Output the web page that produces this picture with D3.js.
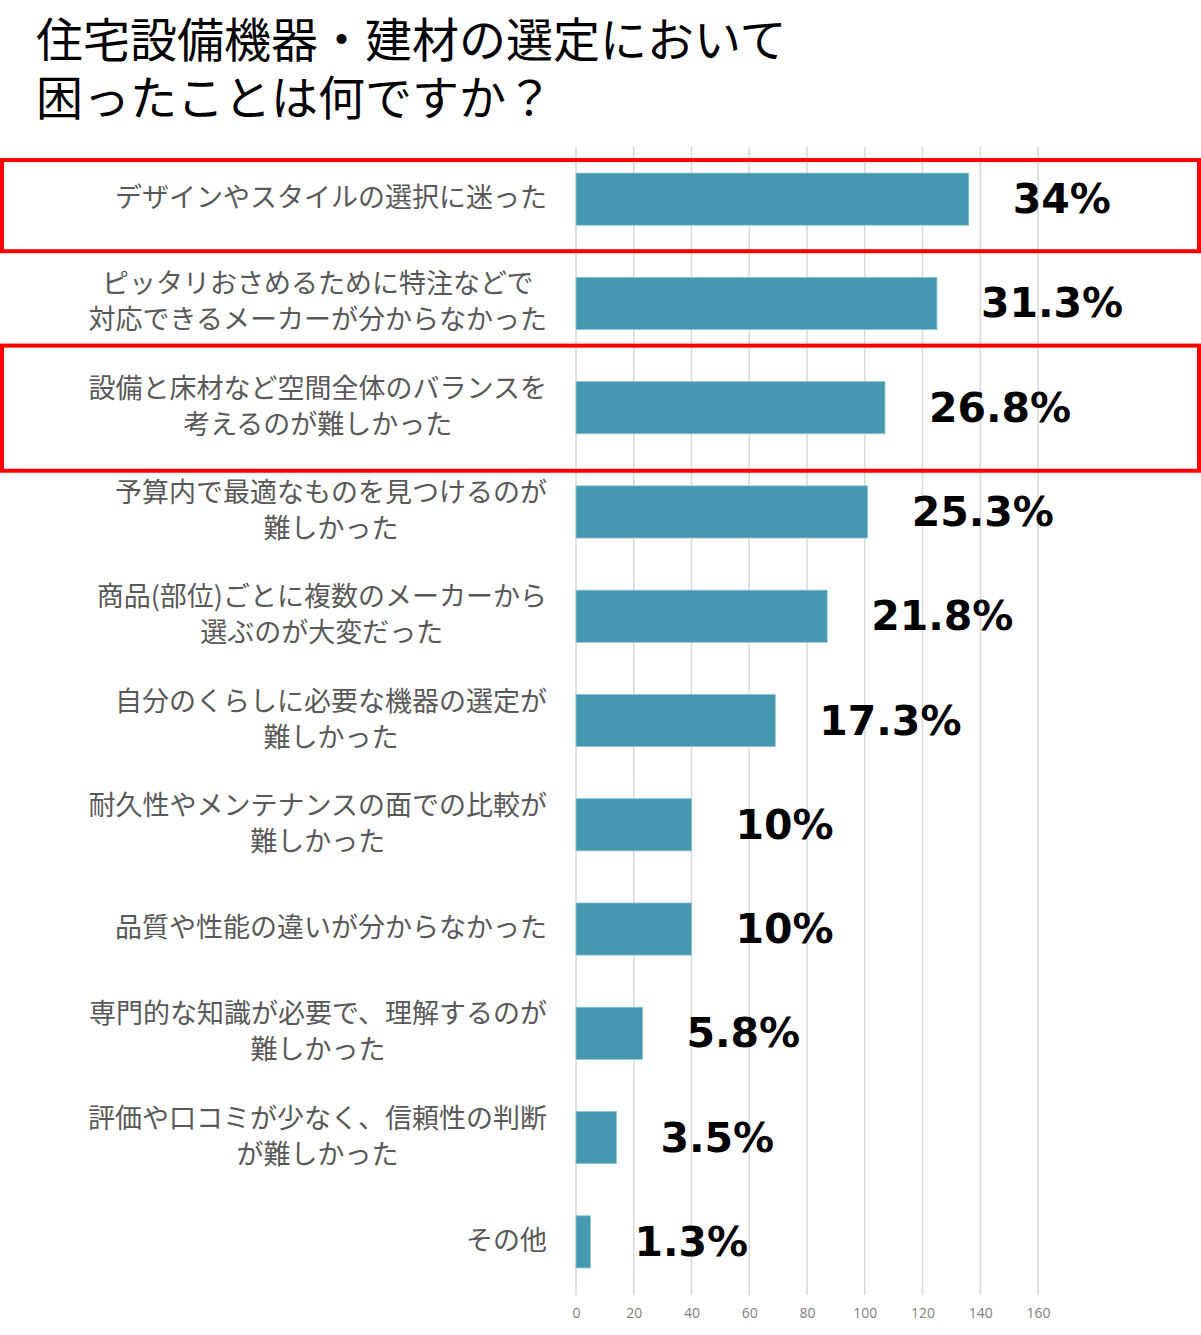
<!DOCTYPE html>
<html><head><meta charset="utf-8">
<script src="https://cdn.jsdelivr.net/npm/d3@7"></script>
<style>html,body{margin:0;padding:0;background:#fff;}</style>
</head><body>
<svg id="chart" width="1201" height="1335"></svg>
<script>
const titleLines = ["住宅設備機器・建材の選定において", "困ったことは何ですか？"];
const categories = [
  ["デザインやスタイルの選択に迷った"],
  ["ピッタリおさめるために特注などで", "対応できるメーカーが分からなかった"],
  ["設備と床材など空間全体のバランスを", "考えるのが難しかった"],
  ["予算内で最適なものを見つけるのが", "難しかった"],
  ["商品(部位)ごとに複数のメーカーから", "選ぶのが大変だった"],
  ["自分のくらしに必要な機器の選定が", "難しかった"],
  ["耐久性やメンテナンスの面での比較が", "難しかった"],
  ["品質や性能の違いが分からなかった"],
  ["専門的な知識が必要で、理解するのが", "難しかった"],
  ["評価や口コミが少なく、信頼性の判断", "が難しかった"],
  ["その他"]
];
const counts = [136, 125, 107, 101, 87, 69, 40, 40, 23, 14, 5];
const percentLabels = ["34%", "31.3%", "26.8%", "25.3%", "21.8%", "17.3%", "10%", "10%", "5.8%", "3.5%", "1.3%"];
const xTicks = [0, 20, 40, 60, 80, 100, 120, 140, 160];
const highlighted = [0, 2];

// layout
const plot = {left: 576, right: 1038, top: 147, bottom: 1294};
const highlightPad = [{top: 13, bottom: 26}, {top: 36, bottom: 37}];
const svg = d3.select("#chart");

const x = d3.scaleLinear().domain([0, 160]).range([plot.left, plot.right]);
const y = d3.scaleBand().domain(d3.range(categories.length))
  .range([plot.top, plot.bottom]).paddingInner(0.5).paddingOuter(0.25);

// title
svg.append("g").selectAll("text").data(titleLines).join("text")
  .attr("x", 36).attr("y", (d, i) => 57 + i * 58)
  .attr("font-family", "'Noto Sans CJK JP', sans-serif")
  .attr("font-size", 47).attr("fill", "#000")
  .text(d => d);

// gridlines
svg.append("g").selectAll("line").data(xTicks).join("line")
  .attr("x1", d => x(d)).attr("x2", d => x(d))
  .attr("y1", plot.top).attr("y2", plot.bottom + 1)
  .attr("stroke", "#d9d9d9").attr("stroke-width", 1.5);

// axis labels
const axis = d3.axisBottom(x).tickValues(xTicks).tickSize(0).tickPadding(0);
const ax = svg.append("g").attr("transform", `translate(0,${plot.bottom + 14})`).call(axis);
ax.select(".domain").remove();
ax.selectAll("text").attr("font-family", "'Open Sans', 'DejaVu Sans', sans-serif")
  .attr("font-size", 14).attr("fill", "#808080");

// bars
svg.append("g").selectAll("rect").data(counts).join("rect")
  .attr("x", x(0)).attr("y", (d, i) => y(i))
  .attr("width", d => x(d) - x(0)).attr("height", y.bandwidth())
  .attr("fill", "#4598b0").attr("stroke", "#8cc4d2").attr("stroke-width", 0.8);

// value labels
svg.append("g").selectAll("text").data(percentLabels).join("text")
  .attr("x", (d, i) => x(counts[i]) + 44)
  .attr("y", (d, i) => y(i) + y.bandwidth() / 2 + 14)
  .attr("font-family", "'DejaVu Sans', Verdana, sans-serif")
  .attr("font-weight", "bold").attr("font-size", 41).attr("fill", "#000")
  .text(d => d);

// category labels
const labelRight = 547;
const lg = svg.append("g");
categories.forEach((lines, i) => {
  const cy = y(i) + y.bandwidth() / 2 - 1;
  const g = lg.append("g");
  const texts = g.selectAll("text").data(lines).join("text")
    .attr("font-family", "'Noto Sans CJK JP', sans-serif")
    .attr("font-size", 27).attr("fill", "#595959")
    .attr("text-anchor", "middle")
    .attr("y", (d, j) => cy + (j - (lines.length - 1) / 2) * 36 + 9)
    .text(d => d);
  let maxW = 0;
  texts.each(function() { maxW = Math.max(maxW, this.getComputedTextLength()); });
  texts.attr("x", labelRight - maxW / 2);
});

// highlight boxes
svg.append("g").selectAll("rect").data(highlighted).join("rect")
  .attr("x", 2).attr("width", 1197)
  .attr("y", (d, k) => y(d) - highlightPad[k].top)
  .attr("height", (d, k) => y.bandwidth() + highlightPad[k].top + highlightPad[k].bottom)
  .attr("fill", "none").attr("stroke", "#ff0000").attr("stroke-width", 4);
</script>
</body></html>
